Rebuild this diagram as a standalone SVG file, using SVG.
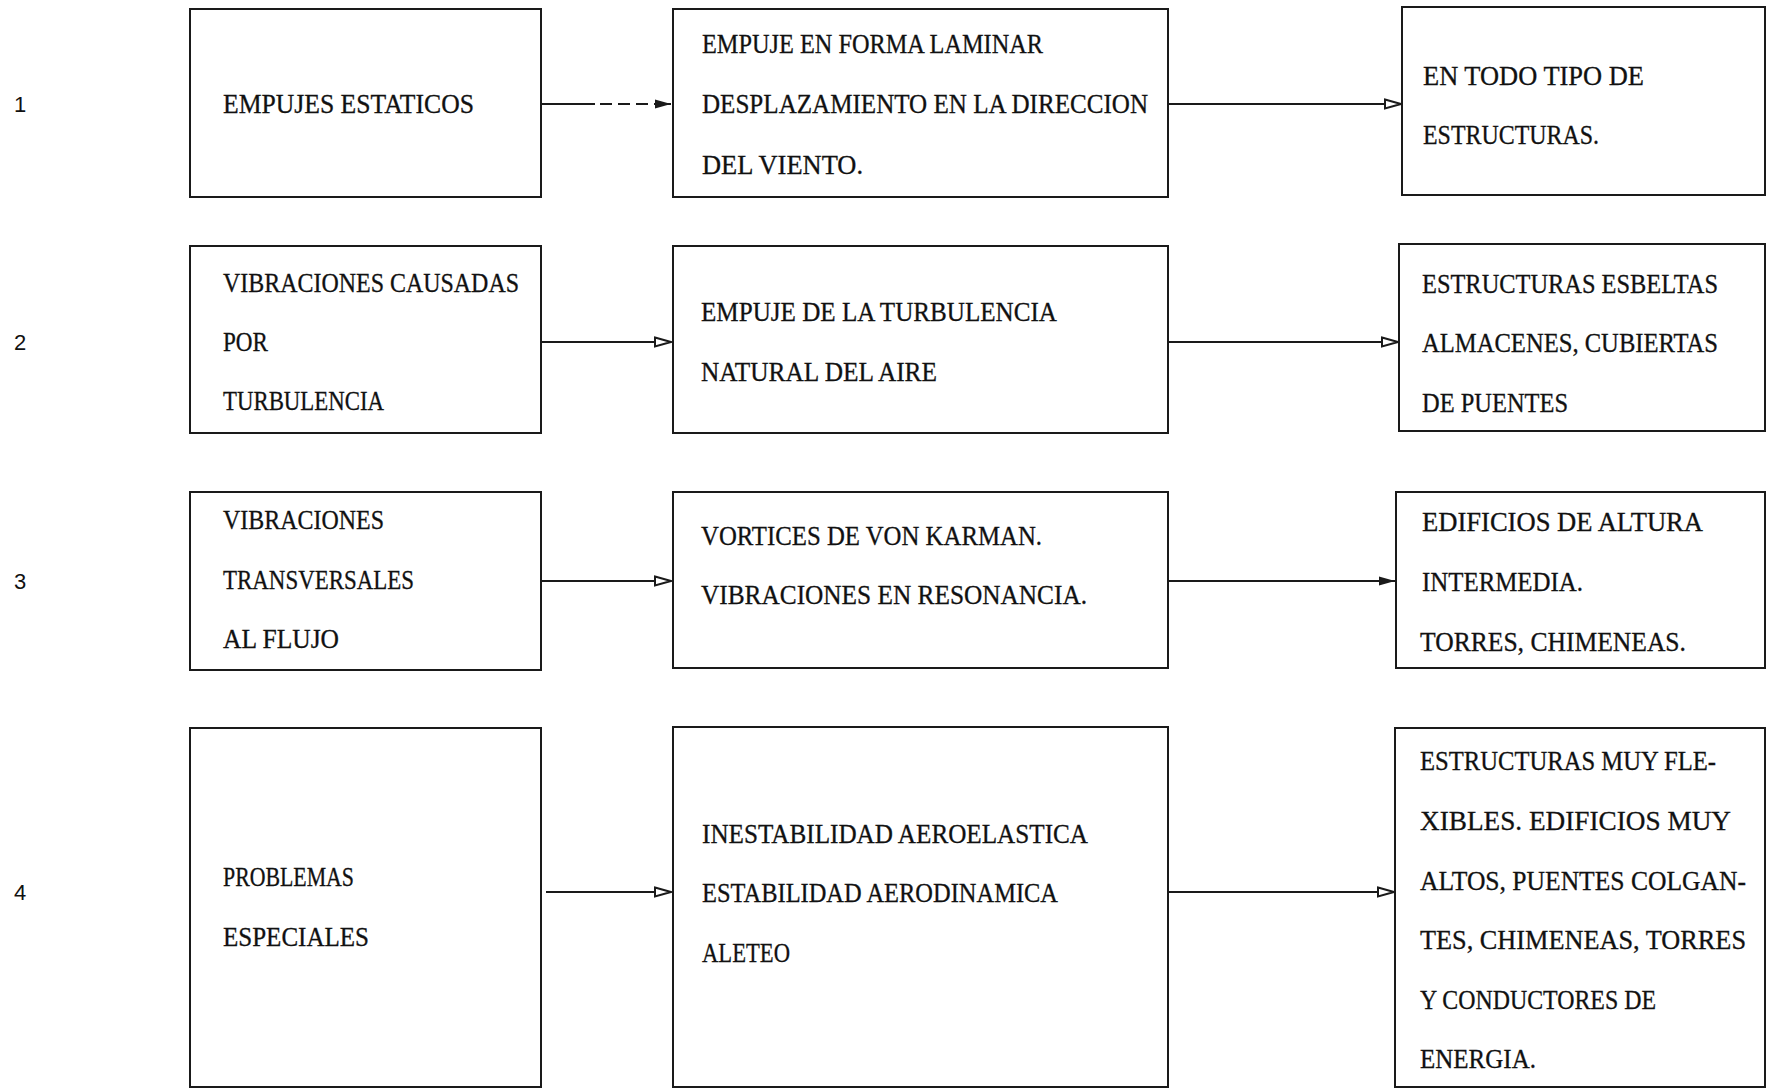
<svg xmlns="http://www.w3.org/2000/svg" width="1768" height="1089" viewBox="0 0 1768 1089">
<style>
.box{fill:none;stroke:#1a1a1a;stroke-width:2}
.t{font-family:"Liberation Serif",serif;font-size:27px;fill:#111;stroke:#111;stroke-width:0.3}
.num{font-family:"Liberation Sans",sans-serif;font-size:22px;fill:#111;text-anchor:middle}
.c{fill:none;stroke:#1a1a1a;stroke-width:2}
</style>
<defs>
<marker id="af" markerUnits="userSpaceOnUse" markerWidth="18" markerHeight="12" refX="17" refY="6" orient="auto">
<path d="M1,1.5 L17,6 L1,10.5 z" fill="#1a1a1a"/>
</marker>
<marker id="ao" markerUnits="userSpaceOnUse" markerWidth="20" markerHeight="12" refX="18" refY="6" orient="auto">
<path d="M2,1.5 L18,6 L2,10.5 z" fill="#fff" stroke="#1a1a1a" stroke-width="2"/>
</marker>
</defs>
<rect width="1768" height="1089" fill="#fff"/>
<g id="labels">
<text class="num" x="20" y="112">1</text>
<text class="num" x="20" y="350">2</text>
<text class="num" x="20" y="589">3</text>
<text class="num" x="20" y="900">4</text>
</g>
<g id="connectors">
<path class="c" d="M541,104 H671" stroke-dasharray="54 5 12 6 12 6 12 6 40" marker-end="url(#af)"/>
<path class="c" d="M1168,104 H1401" marker-end="url(#ao)"/>
<path class="c" d="M541,342 H671" marker-end="url(#ao)"/>
<path class="c" d="M1168,342 H1398" marker-end="url(#ao)"/>
<path class="c" d="M541,581 H671" marker-end="url(#ao)"/>
<path class="c" d="M1168,581 H1395" marker-end="url(#af)"/>
<path class="c" d="M546,892 H671" marker-end="url(#ao)"/>
<path class="c" d="M1168,892 H1394" marker-end="url(#ao)"/>
</g>
<g id="n1a"><rect class="box" x="190" y="9" width="351" height="188"/>
<text class="t" x="223" y="113" textLength="251" lengthAdjust="spacingAndGlyphs">EMPUJES ESTATICOS</text></g>
<g id="n1b"><rect class="box" x="673" y="9" width="495" height="188"/>
<text class="t" x="702" y="53" textLength="341" lengthAdjust="spacingAndGlyphs">EMPUJE EN FORMA LAMINAR</text>
<text class="t" x="702" y="113" textLength="446" lengthAdjust="spacingAndGlyphs">DESPLAZAMIENTO EN LA DIRECCION</text>
<text class="t" x="702" y="174" textLength="161" lengthAdjust="spacingAndGlyphs">DEL VIENTO.</text></g>
<g id="n1c"><rect class="box" x="1402" y="7" width="363" height="188"/>
<text class="t" x="1423" y="85" textLength="221" lengthAdjust="spacingAndGlyphs">EN TODO TIPO DE</text>
<text class="t" x="1423" y="144" textLength="176" lengthAdjust="spacingAndGlyphs">ESTRUCTURAS.</text></g>
<g id="n2a"><rect class="box" x="190" y="246" width="351" height="187"/>
<text class="t" x="223" y="292" textLength="296" lengthAdjust="spacingAndGlyphs">VIBRACIONES CAUSADAS</text>
<text class="t" x="223" y="351" textLength="45" lengthAdjust="spacingAndGlyphs">POR</text>
<text class="t" x="223" y="410" textLength="161" lengthAdjust="spacingAndGlyphs">TURBULENCIA</text></g>
<g id="n2b"><rect class="box" x="673" y="246" width="495" height="187"/>
<text class="t" x="701" y="321" textLength="356" lengthAdjust="spacingAndGlyphs">EMPUJE DE LA TURBULENCIA</text>
<text class="t" x="701" y="381" textLength="236" lengthAdjust="spacingAndGlyphs">NATURAL DEL AIRE</text></g>
<g id="n2c"><rect class="box" x="1399" y="244" width="366" height="187"/>
<text class="t" x="1422" y="293" textLength="296" lengthAdjust="spacingAndGlyphs">ESTRUCTURAS ESBELTAS</text>
<text class="t" x="1422" y="352" textLength="296" lengthAdjust="spacingAndGlyphs">ALMACENES, CUBIERTAS</text>
<text class="t" x="1422" y="412" textLength="146" lengthAdjust="spacingAndGlyphs">DE PUENTES</text></g>
<g id="n3a"><rect class="box" x="190" y="492" width="351" height="178"/>
<text class="t" x="223" y="529" textLength="161" lengthAdjust="spacingAndGlyphs">VIBRACIONES</text>
<text class="t" x="223" y="589" textLength="191" lengthAdjust="spacingAndGlyphs">TRANSVERSALES</text>
<text class="t" x="223" y="648" textLength="116" lengthAdjust="spacingAndGlyphs">AL FLUJO</text></g>
<g id="n3b"><rect class="box" x="673" y="492" width="495" height="176"/>
<text class="t" x="701" y="545" textLength="341" lengthAdjust="spacingAndGlyphs">VORTICES DE VON KARMAN.</text>
<text class="t" x="701" y="604" textLength="386" lengthAdjust="spacingAndGlyphs">VIBRACIONES EN RESONANCIA.</text></g>
<g id="n3c"><rect class="box" x="1396" y="492" width="369" height="176"/>
<text class="t" x="1422" y="531" textLength="281" lengthAdjust="spacingAndGlyphs">EDIFICIOS DE ALTURA</text>
<text class="t" x="1422" y="591" textLength="161" lengthAdjust="spacingAndGlyphs">INTERMEDIA.</text>
<text class="t" x="1420" y="651" textLength="266" lengthAdjust="spacingAndGlyphs">TORRES, CHIMENEAS.</text></g>
<g id="n4a"><rect class="box" x="190" y="728" width="351" height="359"/>
<text class="t" x="223" y="886" textLength="131" lengthAdjust="spacingAndGlyphs">PROBLEMAS</text>
<text class="t" x="223" y="946" textLength="146" lengthAdjust="spacingAndGlyphs">ESPECIALES</text></g>
<g id="n4b"><rect class="box" x="673" y="727" width="495" height="360"/>
<text class="t" x="702" y="843" textLength="386" lengthAdjust="spacingAndGlyphs">INESTABILIDAD AEROELASTICA</text>
<text class="t" x="702" y="902" textLength="356" lengthAdjust="spacingAndGlyphs">ESTABILIDAD AERODINAMICA</text>
<text class="t" x="702" y="962" textLength="88" lengthAdjust="spacingAndGlyphs">ALETEO</text></g>
<g id="n4c"><rect class="box" x="1395" y="728" width="370" height="359"/>
<text class="t" x="1420" y="770" textLength="296" lengthAdjust="spacingAndGlyphs">ESTRUCTURAS MUY FLE-</text>
<text class="t" x="1420" y="830" textLength="311" lengthAdjust="spacingAndGlyphs">XIBLES. EDIFICIOS MUY</text>
<text class="t" x="1420" y="890" textLength="326" lengthAdjust="spacingAndGlyphs">ALTOS, PUENTES COLGAN-</text>
<text class="t" x="1420" y="949" textLength="326" lengthAdjust="spacingAndGlyphs">TES, CHIMENEAS, TORRES</text>
<text class="t" x="1420" y="1009" textLength="236" lengthAdjust="spacingAndGlyphs">Y CONDUCTORES DE</text>
<text class="t" x="1420" y="1068" textLength="116" lengthAdjust="spacingAndGlyphs">ENERGIA.</text></g>
</svg>
